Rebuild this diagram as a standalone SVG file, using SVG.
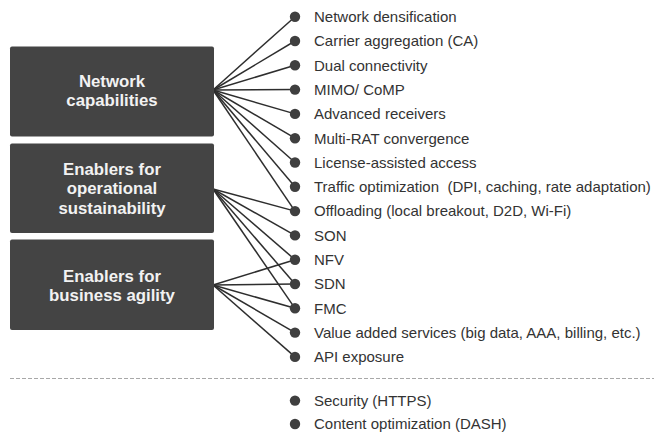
<svg xmlns="http://www.w3.org/2000/svg" width="654" height="436" viewBox="0 0 654 436">
<style>
.box{fill:#444444}
.bt{font-family:"Liberation Sans",Arial,sans-serif;font-weight:bold;font-size:16.8px;fill:#f2f2f2;text-anchor:middle}
.lt{font-family:"Liberation Sans",Arial,sans-serif;font-size:15px;fill:#333333}
.dot{fill:#3f3f3f}
.cn line{stroke:#2e2e2e;stroke-width:1.5}
</style>
<rect width="654" height="436" fill="#ffffff"/>
<g id="connectors" class="cn">
<line x1="213" y1="90" x2="295" y2="16.7"/>
<line x1="213" y1="90" x2="295" y2="41"/>
<line x1="213" y1="90" x2="295" y2="65.3"/>
<line x1="213" y1="90" x2="295" y2="89.6"/>
<line x1="213" y1="90" x2="295" y2="113.9"/>
<line x1="213" y1="90" x2="295" y2="138.2"/>
<line x1="213" y1="90" x2="295" y2="162.5"/>
<line x1="213" y1="90" x2="295" y2="186.8"/>
<line x1="213" y1="90" x2="295" y2="211.1"/>
<line x1="213" y1="189" x2="295" y2="211.1"/>
<line x1="213" y1="189" x2="295" y2="235.4"/>
<line x1="213" y1="189" x2="295" y2="259.7"/>
<line x1="213" y1="189" x2="295" y2="284"/>
<line x1="213" y1="189" x2="295" y2="308.3"/>
<line x1="213" y1="285" x2="295" y2="259.7"/>
<line x1="213" y1="285" x2="295" y2="284"/>
<line x1="213" y1="285" x2="295" y2="308.3"/>
<line x1="213" y1="285" x2="295" y2="332.6"/>
<line x1="213" y1="285" x2="295" y2="356.9"/>
</g>
<g id="node-network-capabilities">
<rect class="box" x="10" y="46.5" width="204" height="90" rx="2"/>
<text class="bt" x="112" y="86.5">Network</text>
<text class="bt" x="112" y="106">capabilities</text>
</g>
<g id="node-operational-sustainability">
<rect class="box" x="10" y="143.5" width="204" height="89.5" rx="2"/>
<text class="bt" x="112" y="174.5">Enablers for</text>
<text class="bt" x="112" y="194">operational</text>
<text class="bt" x="112" y="213.5">sustainability</text>
</g>
<g id="node-business-agility">
<rect class="box" x="10" y="239.5" width="204" height="90.5" rx="2"/>
<text class="bt" x="112" y="281.5">Enablers for</text>
<text class="bt" x="112" y="301">business agility</text>
</g>
<g id="item-network-densification"><circle class="dot" cx="295" cy="16.7" r="5.2"/><text class="lt" x="314" y="22">Network densification</text></g>
<g id="item-carrier-aggregation"><circle class="dot" cx="295" cy="41" r="5.2"/><text class="lt" x="314" y="46.3">Carrier aggregation (CA)</text></g>
<g id="item-dual-connectivity"><circle class="dot" cx="295" cy="65.3" r="5.2"/><text class="lt" x="314" y="70.6">Dual connectivity</text></g>
<g id="item-mimo"><circle class="dot" cx="295" cy="89.6" r="5.2"/><text class="lt" x="314" y="94.9">MIMO/ CoMP</text></g>
<g id="item-advanced-receivers"><circle class="dot" cx="295" cy="113.9" r="5.2"/><text class="lt" x="314" y="119.2">Advanced receivers</text></g>
<g id="item-multi-rat"><circle class="dot" cx="295" cy="138.2" r="5.2"/><text class="lt" x="314" y="143.5">Multi-RAT convergence</text></g>
<g id="item-laa"><circle class="dot" cx="295" cy="162.5" r="5.2"/><text class="lt" x="314" y="167.8">License-assisted access</text></g>
<g id="item-traffic-optimization"><circle class="dot" cx="295" cy="186.8" r="5.2"/><text class="lt" x="314" y="192.1" xml:space="preserve">Traffic optimization  (DPI, caching, rate adaptation)</text></g>
<g id="item-offloading"><circle class="dot" cx="295" cy="211.1" r="5.2"/><text class="lt" x="314" y="216.4">Offloading (local breakout, D2D, Wi-Fi)</text></g>
<g id="item-son"><circle class="dot" cx="295" cy="235.4" r="5.2"/><text class="lt" x="314" y="240.7">SON</text></g>
<g id="item-nfv"><circle class="dot" cx="295" cy="259.7" r="5.2"/><text class="lt" x="314" y="265">NFV</text></g>
<g id="item-sdn"><circle class="dot" cx="295" cy="284" r="5.2"/><text class="lt" x="314" y="289.3">SDN</text></g>
<g id="item-fmc"><circle class="dot" cx="295" cy="308.3" r="5.2"/><text class="lt" x="314" y="313.6">FMC</text></g>
<g id="item-value-added"><circle class="dot" cx="295" cy="332.6" r="5.2"/><text class="lt" x="314" y="337.9">Value added services (big data, AAA, billing, etc.)</text></g>
<g id="item-api"><circle class="dot" cx="295" cy="356.9" r="5.2"/><text class="lt" x="314" y="362.2">API exposure</text></g>
<line id="separator" x1="10" y1="378.5" x2="654" y2="378.5" stroke="#a8a8a8" stroke-width="1" stroke-dasharray="4,2"/>
<g id="item-security"><circle class="dot" cx="295" cy="400.6" r="5.2"/><text class="lt" x="314" y="405.9">Security (HTTPS)</text></g>
<g id="item-content"><circle class="dot" cx="295" cy="424" r="5.2"/><text class="lt" x="314" y="429.3">Content optimization (DASH)</text></g>
</svg>
